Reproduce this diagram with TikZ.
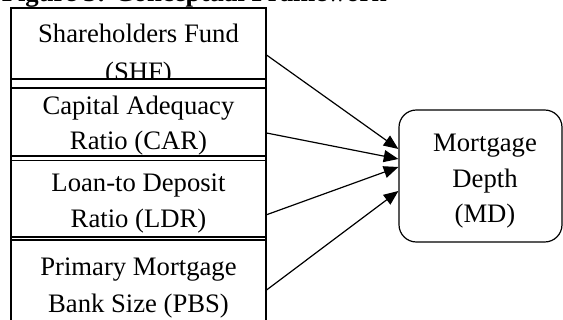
\documentclass[tikz,border=0pt]{standalone}
\usepackage{fontspec}
\setmainfont{Liberation Serif}
\usetikzlibrary{arrows.meta,calc}
\def\px{0.75pt}
\begin{document}
\begin{tikzpicture}[x=0.75pt,y=-0.75pt,
  box/.style={draw,line width=0.8pt,rectangle,inner sep=0pt,minimum width=255*\px},
  lbl/.style={anchor=base,inner sep=0pt,font=\fontsize{20}{24}\selectfont},
  arr/.style={-{Triangle[length=11pt,width=9pt]},line width=0.9pt}]
\useasboundingbox (0,0) rectangle (563,320);
% title (cut off at the top)
\node[anchor=base west,inner sep=0pt,font=\fontsize{20}{24}\selectfont\bfseries] (title) at (1.5,2) {Figure 3: Conceptual Framework};
% outer frame
\draw[line width=0.8pt] (11,8) rectangle (266,330);
% left boxes
\node[box,minimum height=71*\px] (shf) at (138.5,43.5) {};
\node[box,minimum height=68*\px] (car) at (138.5,122) {};
\node[box,minimum height=76.5*\px] (ldr) at (138.5,198.75) {};
\node[box,minimum height=88*\px] (pbs) at (138.5,284) {};
% right box
\node[draw,line width=0.9pt,rounded corners=13pt,minimum width=163*\px,minimum height=132*\px,inner sep=0pt] (md) at (480.5,176) {};
% texts
\node[lbl] (t1a) at (138.5,43) {Shareholders Fund};
\begin{scope}
\clip (shf.north west) rectangle (shf.south east);
\node[lbl] (t1b) at (138.5,81) {(SHF)};
\end{scope}
\node[lbl] (t2a) at (138.5,115) {Capital Adequacy};
\node[lbl] (t2b) at (138.5,150) {Ratio (CAR)};
\node[lbl] (t3a) at (138.5,191) {Loan-to Deposit};
\node[lbl] (t3b) at (138.5,227) {Ratio (LDR)};
\node[lbl] (t4a) at (138.5,275) {Primary Mortgage};
\node[lbl] (t4b) at (138.5,312) {Bank Size (PBS)};
\node[lbl] (m1) at (485,152) {Mortgage};
\node[lbl] (m2) at (485,188) {Depth};
\node[lbl] (m3) at (485,223) {(MD)};
% arrows
\draw[arr] ($(shf.east)+(0,11.5)$) -- ($(md.west)+(0,-27)$);
\draw[arr] ($(car.east)+(0,11)$) -- ($(md.west)+(0,-17)$);
\draw[arr] ($(ldr.east)+(0,16)$) -- ($(md.west)+(0,-9)$);
\draw[arr] ($(pbs.east)+(0,6)$) -- ($(md.west)+(0,15)$);
\end{tikzpicture}
\end{document}
